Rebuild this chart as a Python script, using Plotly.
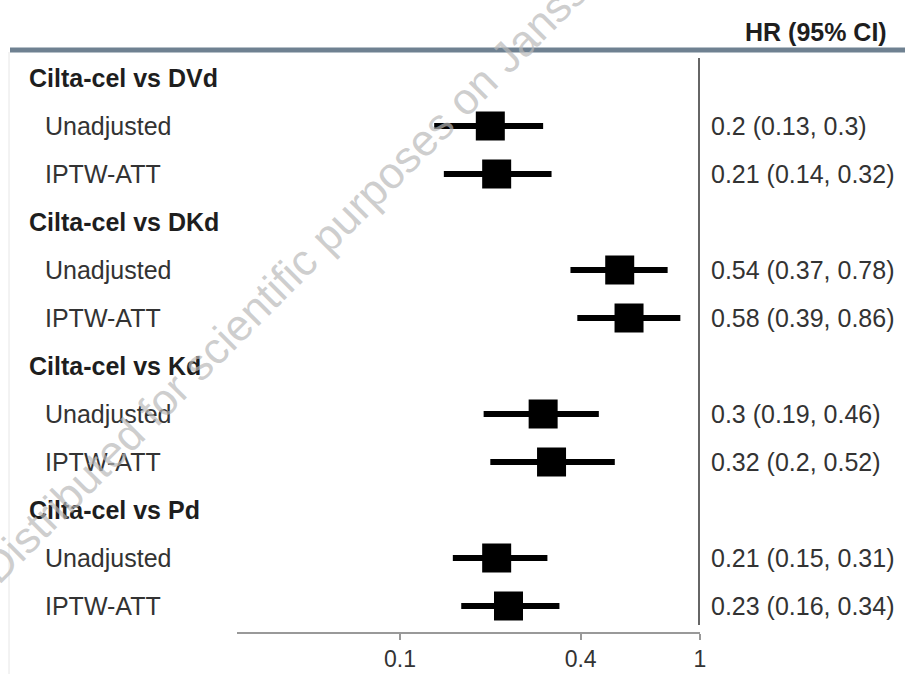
import plotly.graph_objects as go

# ---- data ----
comparisons = ["Cilta-cel vs DVd", "Cilta-cel vs DKd", "Cilta-cel vs Kd", "Cilta-cel vs Pd"]
methods = ["Unadjusted", "IPTW-ATT"]
hr = [0.20, 0.21, 0.54, 0.58, 0.30, 0.32, 0.21, 0.23]
ci_low = [0.13, 0.14, 0.37, 0.39, 0.19, 0.20, 0.15, 0.16]
ci_high = [0.30, 0.32, 0.78, 0.86, 0.46, 0.52, 0.31, 0.34]
hr_text = ["0.2 (0.13, 0.3)", "0.21 (0.14, 0.32)", "0.54 (0.37, 0.78)", "0.58 (0.39, 0.86)",
           "0.3 (0.19, 0.46)", "0.32 (0.2, 0.52)", "0.21 (0.15, 0.31)", "0.23 (0.16, 0.34)"]
tick_vals = [0.1, 0.4, 1]
tick_text = ["0.1", "0.4", "1"]
header_label = "HR (95% CI)"
watermark = "Distributed for scientific purposes on Janssen"

# ---- layout geometry ----
W, H = 905, 674
ML, MR, MT, MB = 237, 205, 50, 42
PW, PH = W - ML - MR, H - MT - MB
FONT = "Liberation Sans, Arial, sans-serif"


def px_x(p):
    return (p - ML) / PW


def px_y(p):
    return (H - MB - p) / PH


# row positions: group header then its methods
rows = []  # (row_index, label, is_header, data_index)
r = 0
k = 0
for c in comparisons:
    rows.append((r, c, True, None))
    r += 1
    for m in methods:
        rows.append((r, m, False, k))
        r += 1
        k += 1

row_of = {d: ri for ri, _, hdr, d in rows if not hdr}

ci_x, ci_y = [], []
for i in range(len(hr)):
    ci_x += [ci_low[i], ci_high[i], None]
    ci_y += [row_of[i], row_of[i], None]

fig = go.Figure()
fig.add_trace(go.Scatter(x=ci_x, y=ci_y, mode="lines",
                         line=dict(color="black", width=6), hoverinfo="skip", showlegend=False))
fig.add_trace(go.Scatter(x=hr, y=[row_of[i] for i in range(len(hr))], mode="markers",
                         marker=dict(symbol="square", size=29, color="black", line=dict(width=0)),
                         showlegend=False))

annotations = []
for ri, label, hdr, d in rows:
    annotations.append(dict(
        x=px_x(27 if hdr else 43), xref="paper", y=ri, yref="y",
        text=f"<b>{label}</b>" if hdr else label, showarrow=False,
        xanchor="left", yanchor="middle",
        font=dict(family=FONT, size=25, color="#1e1e1e" if hdr else "#333333")))
    if not hdr:
        annotations.append(dict(
            x=px_x(709), xref="paper", y=ri, yref="y", text=hr_text[d], showarrow=False,
            xanchor="left", yanchor="middle",
            font=dict(family=FONT, size=25, color="#333333")))

annotations.append(dict(x=px_x(889), xref="paper", y=px_y(32), yref="paper",
                        text=f"<b>{header_label}</b>", showarrow=False,
                        xanchor="right", yanchor="middle",
                        font=dict(family=FONT, size=25, color="#1e1e1e")))

annotations.append(dict(x=px_x(300), xref="paper", y=px_y(262), yref="paper",
                        text=watermark, showarrow=False, textangle=-45,
                        xanchor="center", yanchor="middle",
                        font=dict(family=FONT, size=44, color="rgba(185,185,185,0.7)")))

shapes = [
    dict(type="line", xref="paper", yref="paper", x0=px_x(10), x1=px_x(W), y0=px_y(50), y1=px_y(50),
         line=dict(color="#6f8191", width=5)),
    dict(type="line", xref="paper", yref="paper", x0=px_x(699), x1=px_x(699), y0=px_y(58), y1=px_y(625),
         line=dict(color="#666666", width=2)),
    dict(type="line", xref="paper", yref="paper", x0=px_x(9), x1=px_x(9), y0=px_y(52), y1=px_y(H),
         line=dict(color="#e6e6e6", width=1)),
]

top_row_px = 78
row_step = 48
y_top = -(top_row_px - MT) / row_step
y_bot = (H - MB - top_row_px) / row_step

fig.update_layout(
    width=W, height=H,
    margin=dict(l=ML, r=MR, t=MT, b=MB, pad=0, autoexpand=False),
    paper_bgcolor="white", plot_bgcolor="white",
    xaxis=dict(type="log", range=[-1 - (400 - ML) / 300, 0], tickvals=tick_vals, ticktext=tick_text,
               showgrid=False, zeroline=False, showline=True, linecolor="#999999", linewidth=1.5,
               ticks="outside", ticklen=6, tickwidth=1.5, tickcolor="#999999", automargin=False,
               tickfont=dict(family=FONT, size=23, color="#333333"), fixedrange=True),
    yaxis=dict(range=[y_bot, y_top], visible=False, showgrid=False, zeroline=False,
               automargin=False, fixedrange=True),
    annotations=annotations, shapes=shapes, showlegend=False,
)

fig.write_html("out.html", config={"displayModeBar": False},
               post_script="document.body.style.margin='0';document.body.style.overflow='hidden';")
